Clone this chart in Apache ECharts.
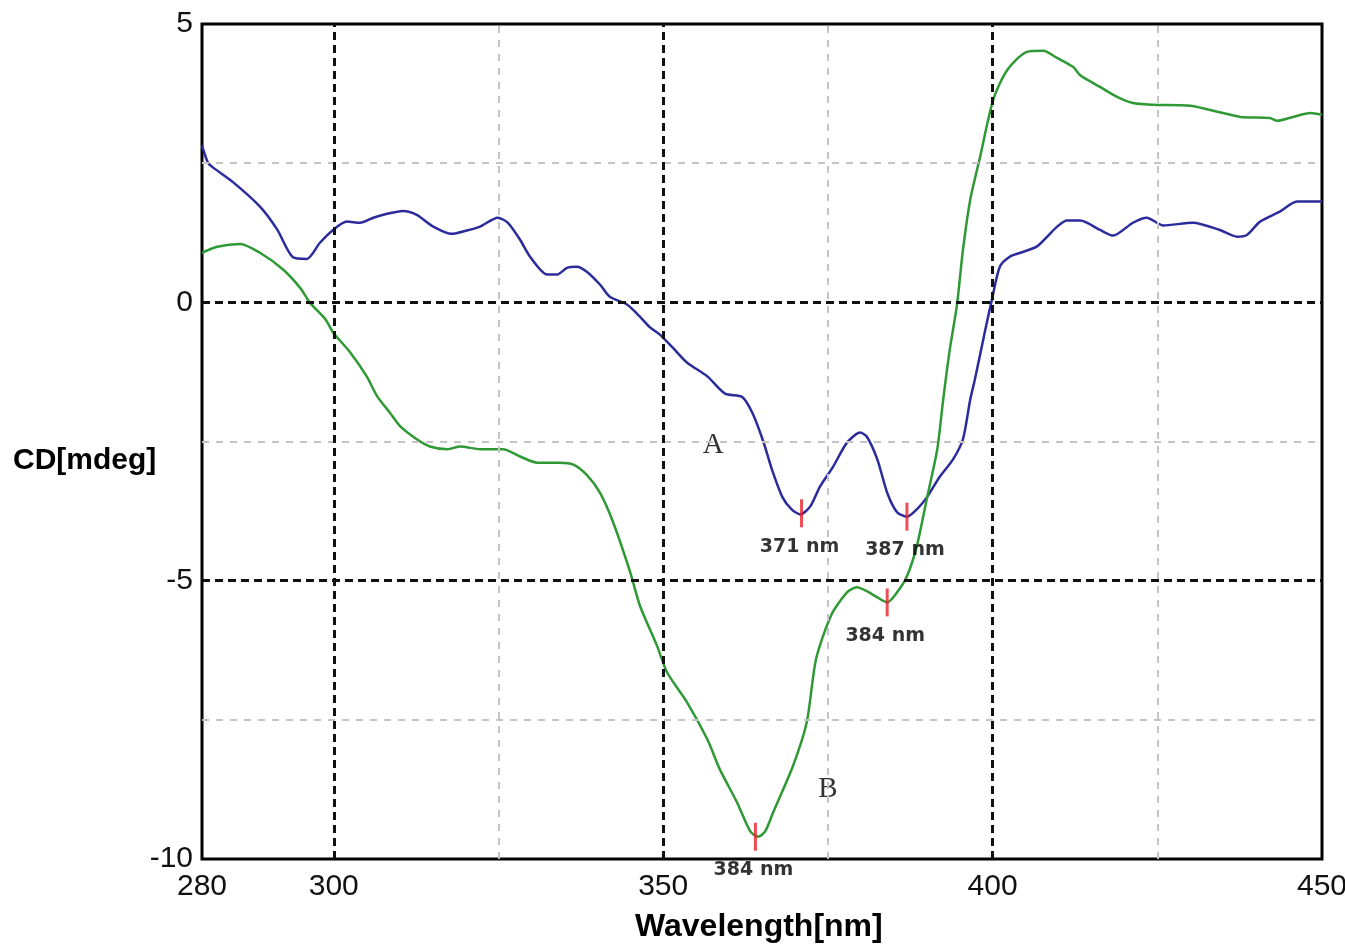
<!DOCTYPE html>
<html>
<head>
<meta charset="utf-8">
<script src="https://cdn.jsdelivr.net/npm/echarts@6/dist/echarts.min.js"></script>
<style>
  html, body { margin: 0; padding: 0; background: #fff; }
  #chart { width: 1345px; height: 948px; }
</style>
</head>
<body>
<div id="chart"></div>
<script>
// curve A (blue)
const wavelengthA = [280.0, 280.9, 281.7, 284.7, 288.8, 291.4, 293.8, 295.9, 297.9, 299.9, 302.0, 304.0, 306.0, 308.1, 310.5, 312.6, 315.1, 317.9, 320.2, 322.2, 324.9, 326.4, 328.3, 329.8, 332.4, 333.9, 335.4, 336.9, 338.4, 340.4, 341.9, 344.5, 346.5, 348.0, 349.5, 351.5, 353.6, 356.7, 359.4, 362.0, 363.6, 365.2, 366.5, 368.1, 369.5, 370.8, 372.3, 373.8, 375.8, 377.9, 379.9, 380.9, 382.5, 384.0, 385.5, 387.0, 388.5, 390.1, 392.0, 394.0, 395.5, 396.6, 397.3, 398.9, 399.9, 401.1, 402.6, 404.2, 406.7, 408.3, 409.8, 411.3, 413.3, 416.3, 418.3, 421.3, 423.4, 425.9, 430.4, 434.5, 437.1, 438.6, 440.6, 443.6, 446.2, 450.0];
const cdA = [2.82, 2.51, 2.42, 2.16, 1.72, 1.31, 0.81, 0.78, 1.07, 1.30, 1.45, 1.43, 1.52, 1.59, 1.64, 1.57, 1.36, 1.23, 1.29, 1.36, 1.52, 1.43, 1.12, 0.82, 0.50, 0.50, 0.62, 0.64, 0.55, 0.32, 0.10, -0.04, -0.26, -0.45, -0.58, -0.82, -1.08, -1.33, -1.64, -1.70, -2.0, -2.5, -3.0, -3.5, -3.72, -3.81, -3.67, -3.31, -2.95, -2.52, -2.34, -2.41, -2.82, -3.42, -3.77, -3.85, -3.72, -3.49, -3.13, -2.82, -2.46, -1.75, -1.39, -0.49, 0.05, 0.64, 0.82, 0.89, 1.00, 1.18, 1.36, 1.47, 1.47, 1.30, 1.20, 1.43, 1.52, 1.38, 1.43, 1.30, 1.18, 1.21, 1.45, 1.63, 1.81, 1.81];

// curve B (green)
const wavelengthB = [280.0, 282.3, 285.8, 288.8, 292.3, 294.9, 296.4, 298.7, 299.9, 302.5, 305.0, 306.6, 308.5, 310.1, 312.6, 314.6, 317.2, 319.2, 322.2, 325.7, 328.3, 330.9, 334.3, 336.3, 338.4, 340.4, 342.4, 345.0, 346.5, 349.1, 350.6, 353.6, 356.7, 358.6, 361.2, 363.2, 364.4, 365.5, 366.7, 369.7, 371.8, 373.2, 375.5, 377.9, 379.4, 380.9, 382.5, 384.0, 385.5, 387.0, 388.5, 390.0, 391.6, 392.5, 393.5, 394.6, 395.5, 396.6, 398.1, 400.1, 402.2, 405.2, 407.7, 409.8, 412.2, 413.3, 416.3, 418.9, 421.3, 424.3, 430.0, 435.0, 437.6, 442.1, 443.2, 445.6, 448.2, 450.0];
const cdB = [0.89, 1.00, 1.05, 0.89, 0.59, 0.26, -0.01, -0.30, -0.54, -0.90, -1.33, -1.69, -1.98, -2.23, -2.46, -2.59, -2.64, -2.59, -2.64, -2.64, -2.77, -2.88, -2.88, -2.91, -3.10, -3.42, -3.95, -4.85, -5.46, -6.18, -6.65, -7.18, -7.85, -8.39, -8.98, -9.50, -9.60, -9.50, -9.16, -8.33, -7.54, -6.41, -5.62, -5.21, -5.12, -5.19, -5.30, -5.39, -5.21, -4.92, -4.38, -3.54, -2.64, -1.75, -0.85, -0.04, 0.94, 1.84, 2.61, 3.64, 4.17, 4.50, 4.52, 4.39, 4.23, 4.08, 3.87, 3.69, 3.58, 3.55, 3.53, 3.40, 3.33, 3.31, 3.26, 3.33, 3.40, 3.37];

// marked minima
const peakX = [371, 387, 384, 364];
const peakY = [-3.79, -3.85, -5.39, -9.60];
const peakLabels = ['371 nm', '387 nm', '384 nm', '384 nm'];

// curve letters
const letterX = [357.6, 375.0];
const letterY = [-2.54, -8.73];
const letterText = ['A', 'B'];

// grid lines
const xTicks = [280, 300, 350, 400, 450];
const majorX = [300, 350, 400];
const minorX = [325, 375, 425];
const majorY = [0, -5];
const minorY = [2.5, -2.5, -7.5];

const zip = (xs, ys) => xs.map((x, i) => [x, ys[i]]);

const chart = echarts.init(document.getElementById('chart'));

const majorStyle = { color: '#111', type: [8, 5], width: 3 };
const minorStyle = { color: '#c4c4c4', type: [7, 7], width: 2 };

chart.setOption({
  animation: false,
  backgroundColor: '#fff',
  grid: {
    left: 202, right: 23, top: 24, bottom: 89, outerBoundsMode: 'none',
    show: true, borderColor: '#000', borderWidth: 3, backgroundColor: '#fff'
  },
  xAxis: {
    type: 'value', min: 280, max: 450,
    axisLine: { show: false }, axisTick: { show: false }, splitLine: { show: false },
    axisLabel: { customValues: xTicks, fontFamily: 'Liberation Sans', fontSize: 30, color: '#111', margin: 13 }
  },
  yAxis: {
    type: 'value', min: -10, max: 5, interval: 5,
    axisLine: { show: false }, axisTick: { show: false }, splitLine: { show: false },
    axisLabel: { fontFamily: 'Liberation Sans', fontSize: 30, color: '#111', margin: 9 }
  },
  graphic: [
    { type: 'text', left: 13, top: 446, style: { text: 'CD[mdeg]', font: 'bold 30px "Liberation Sans"', fill: '#000' } },
    { type: 'text', left: 635, top: 911, style: { text: 'Wavelength[nm]', font: 'bold 32px "Liberation Sans"', fill: '#000' } }
  ],
  series: [
    {
      name: 'grid', type: 'line', data: [], silent: true, z: 1,
      markLine: {
        silent: true, symbol: ['none', 'none'], label: { show: false }, animation: false,
        data: [
          ...minorX.map(v => ({ xAxis: v, lineStyle: minorStyle })),
          ...minorY.map(v => ({ yAxis: v, lineStyle: minorStyle })),
          ...majorX.map(v => ({ xAxis: v, lineStyle: majorStyle })),
          ...majorY.map(v => ({ yAxis: v, lineStyle: majorStyle }))
        ]
      }
    },
    {
      name: 'A', type: 'line', data: zip(wavelengthA, cdA), showSymbol: false, smooth: 0.25, z: 3,
      lineStyle: { color: '#2b2b9c', width: 2.5 }
    },
    {
      name: 'B', type: 'line', data: zip(wavelengthB, cdB), showSymbol: false, smooth: 0.25, z: 3,
      lineStyle: { color: '#2f9a35', width: 2.5 }
    },
    {
      name: 'peaks', type: 'scatter', z: 4, symbol: 'rect', symbolSize: [3, 28],
      itemStyle: { color: '#e8202a' },
      data: peakX.map((x, i) => ({ value: [x, peakY[i]], name: peakLabels[i] })),
      label: {
        show: true, position: 'bottom', distance: 10, offset: [-2, 0], formatter: p => p.name,
        fontFamily: 'DejaVu Sans', fontWeight: 'bold', fontSize: 19, color: '#000',
        textBorderWidth: 0
      }
    },
    {
      name: 'letters', type: 'scatter', z: 4, symbol: 'circle', symbolSize: 2,
      itemStyle: { color: '#fff' },
      data: letterX.map((x, i) => ({ value: [x, letterY[i]], name: letterText[i] })),
      label: {
        show: true, position: 'top', distance: -17, formatter: p => p.name,
        fontFamily: 'Liberation Serif', fontSize: 29, color: '#000'
      }
    }
  ]
});
</script>
</body>
</html>
